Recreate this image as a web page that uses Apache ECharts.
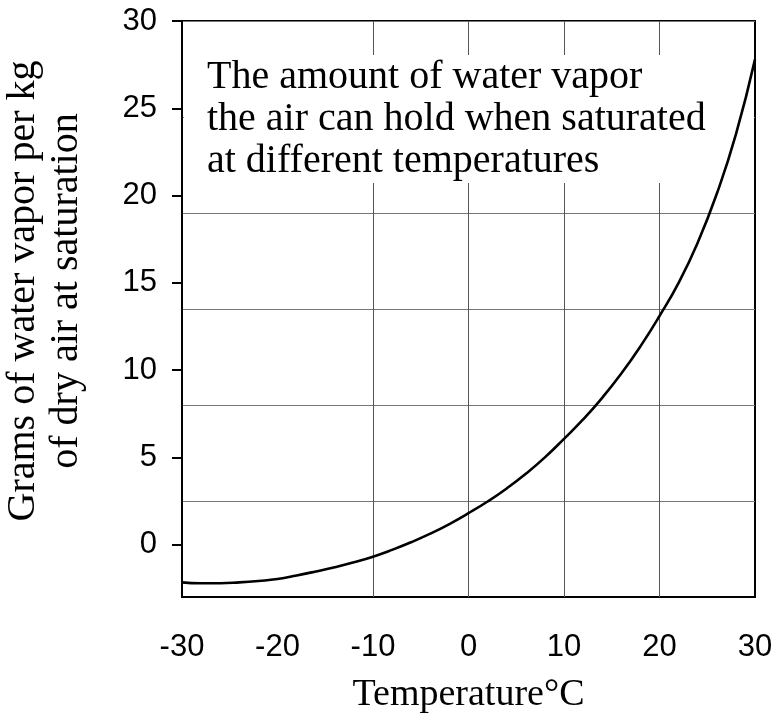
<!DOCTYPE html>
<html>
<head>
<meta charset="utf-8">
<script src="https://cdn.jsdelivr.net/npm/echarts@6/dist/echarts.min.js"></script>
<style>
html, body { margin: 0; padding: 0; background: #fff; }
#main { width: 781px; height: 725px; }
</style>
</head>
<body>
<div id="main"></div>
<script>
// temperature (deg C) and grams of water vapour per kg of dry air
var temps = [-30, -28, -26, -24, -22, -20, -18, -16, -14, -12, -10, -8, -6, -4, -2, 0, 2, 4, 6, 8, 10, 12, 14, 16, 18, 20, 22, 24, 26, 28, 30];
var vapor = [-2.16, -2.21, -2.21, -2.16, -2.08, -1.97, -1.77, -1.54, -1.29, -1.01, -0.69, -0.30, 0.14, 0.63, 1.18, 1.80, 2.47, 3.22, 4.06, 5.00, 6.06, 7.17, 8.41, 9.80, 11.36, 13.1, 15.0, 17.3, 20.1, 23.5, 27.8];

var yLabels = [0, 5, 10, 15, 20, 25, 30];
var vLines = [-10, 0, 10, 20];
var noteLines = ['The amount of water vapor', 'the air can hold when saturated', 'at different temperatures'];

var chart = echarts.init(document.getElementById('main'));

var points = [];
for (var i = 0; i < temps.length; i++) {
    points.push([temps[i], vapor[i]]);
}

var option = {
    backgroundColor: '#fff',
    animation: false,
    grid: {
        left: 182, right: 26, top: 21, bottom: 128,
        show: true, borderColor: '#000', borderWidth: 2,
        backgroundColor: 'transparent'
    },
    xAxis: {
        type: 'value', min: -30, max: 30, interval: 10,
        name: 'Temperature\u00B0C',
        nameLocation: 'middle', nameGap: 79,
        nameTextStyle: { fontFamily: 'Liberation Serif', fontSize: 38, color: '#000' },
        axisLine: { onZero: false, lineStyle: { color: '#000', width: 2 } },
        axisTick: { show: false },
        splitLine: { show: false },
        axisLabel: { fontFamily: 'Liberation Sans', fontSize: 31, color: '#000', margin: 35 }
    },
    yAxis: [{
        type: 'value', min: -3, max: 30,
        axisLine: { show: true, onZero: false, lineStyle: { color: '#000', width: 2 } },
        axisTick: { show: true, length: 10, customValues: yLabels, lineStyle: { color: '#000', width: 2 } },
        splitLine: { show: false },
        axisLabel: {
            customValues: yLabels, fontFamily: 'Liberation Sans', fontSize: 31,
            color: '#000', margin: 25, padding: [9, 0, 0, 0]
        }
    }, {
        // helper axis only for the evenly spaced horizontal grid lines
        type: 'value', min: 0, max: 33, interval: 5.5, position: 'left',
        axisLine: { show: false, onZero: false },
        axisTick: { show: false },
        axisLabel: { show: false },
        splitLine: { show: true, lineStyle: { color: '#777', width: 1 } }
    }],
    series: [{
        type: 'line',
        z: 10,
        data: points,
        showSymbol: false,
        smooth: true,
        lineStyle: { color: '#000', width: 2.6 },
        markLine: {
            z: 3,
            silent: true,
            symbol: 'none',
            label: { show: false },
            lineStyle: { color: '#555', width: 1, type: 'solid' },
            data: vLines.map(function (v) { return { xAxis: v }; })
        }
    }],
    graphic: [{
        type: 'rect', z: 4,
        shape: { x: 184, y: 55, width: 570, height: 128 },
        style: { fill: '#fff' }
    }, {
        type: 'text', z: 5, x: 207, y: 119,
        style: {
            text: noteLines.join('\n'),
            font: '40px "Liberation Serif"',
            fill: '#000',
            textVerticalAlign: 'middle',
            lineHeight: 42
        }
    }, {
        type: 'text', z: 5, x: 45, y: 291,
        rotation: Math.PI / 2,
        style: {
            text: 'Grams of water vapor per kg\nof dry air at saturation',
            font: '40px "Liberation Serif"',
            fill: '#000',
            textAlign: 'center',
            textVerticalAlign: 'middle',
            lineHeight: 43
        }
    }]
};

chart.setOption(option);
</script>
</body>
</html>
